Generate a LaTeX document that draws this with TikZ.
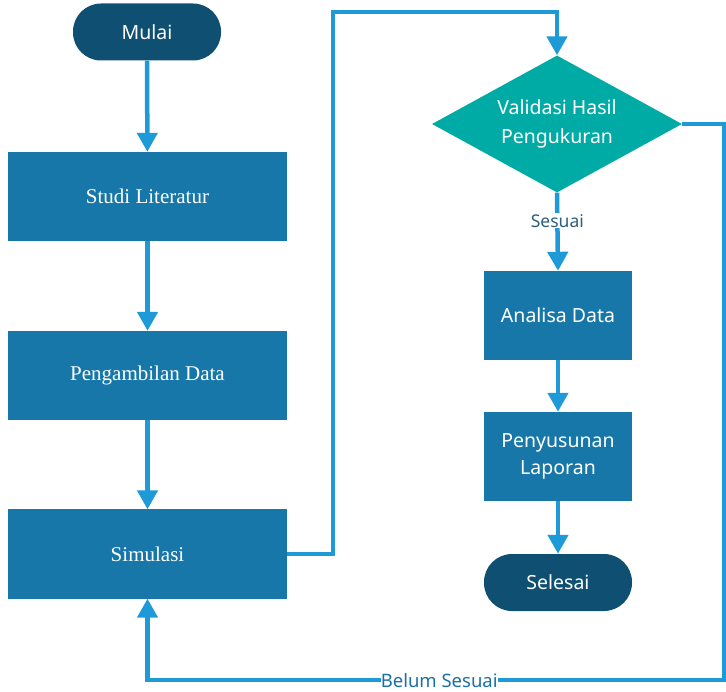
\documentclass[tikz,border=0pt]{standalone}
\usepackage{fontspec}
\setmainfont{Liberation Serif}
\newfontfamily\uifont{Noto Sans}
\usepackage{xcolor}
\usetikzlibrary{positioning,arrows.meta,shapes.geometric}
\definecolor{navy}{HTML}{0F5072}
\definecolor{boxblue}{HTML}{1777A8}
\definecolor{linkblue}{HTML}{1E9AD8}
\definecolor{teal}{HTML}{00ABA6}
\definecolor{lbldark}{HTML}{2B5E80}
\definecolor{lblblue}{HTML}{1C70A8}

\begin{document}
\begin{tikzpicture}[x=1pt, y=-1pt, >={Triangle[width=20pt,length=19pt]},
  term/.style={rectangle, rounded corners=28pt, fill=navy, text=white, font=\uifont\fontsize{19.5}{23}\selectfont,
    minimum width=148pt, minimum height=57pt, inner sep=0pt},
  proc/.style={rectangle, fill=boxblue, text=white, align=center, font=\fontsize{21}{25}\selectfont,
    minimum width=279pt, minimum height=89pt, inner sep=0pt},
  proc2/.style={proc, font=\uifont\fontsize{19.5}{27}\selectfont, minimum width=148pt},
  decide/.style={diamond, aspect=1.82, fill=teal, text=white, align=center, inner sep=0pt,
    minimum width=250pt, minimum height=137pt, font=\uifont\fontsize{19.5}{29}\selectfont},
  link/.style={->, draw=linkblue, line width=4.5pt},
  lbl/.style={fill=white, inner sep=1pt, font=\uifont}]
\useasboundingbox (0,0) rectangle (726,692);

% left column
\node[term] (start) at (147,32) {Mulai};
\node[proc] (lit) at (147.5,196.5) {Studi Literatur};
\node[proc] (data) at (147.5,375.5) {Pengambilan Data};
\node[proc] (sim) at (147.5,554) {Simulasi};

% right column
\node[decide] (val) at (557,124) {Validasi Hasil\\Pengukuran};
\node[proc2] (ana) at (558,315.5) {Analisa Data};
\node[proc2] (lap) at (558,456.5) {Penyusunan\\Laporan};
\node[term] (stop) at (558,582.5) {Selesai};

\coordinate (up) at (333,12);
\coordinate (rt) at (724,680);

\draw[link] (start) -- (lit);
\draw[link] (lit) -- (data);
\draw[link] (data) -- (sim);
\draw[link] (sim.east) -| (up) -| (val.north);
\draw[link] (val.south) -- node[lbl, pos=0.36, text=lbldark, font=\uifont\fontsize{17.5}{20}\selectfont] {Sesuai} (ana.north);
\draw[link] (ana) -- (lap);
\draw[link] (lap) -- (stop);
\draw[link] (val.east) -| (rt) -| node[lbl, pos=0.247, inner sep=0pt, text depth=0pt, text=lblblue, font=\uifont\fontsize{18.5}{20}\selectfont] {Belum Sesuai} (sim.south);
\end{tikzpicture}
\end{document}
